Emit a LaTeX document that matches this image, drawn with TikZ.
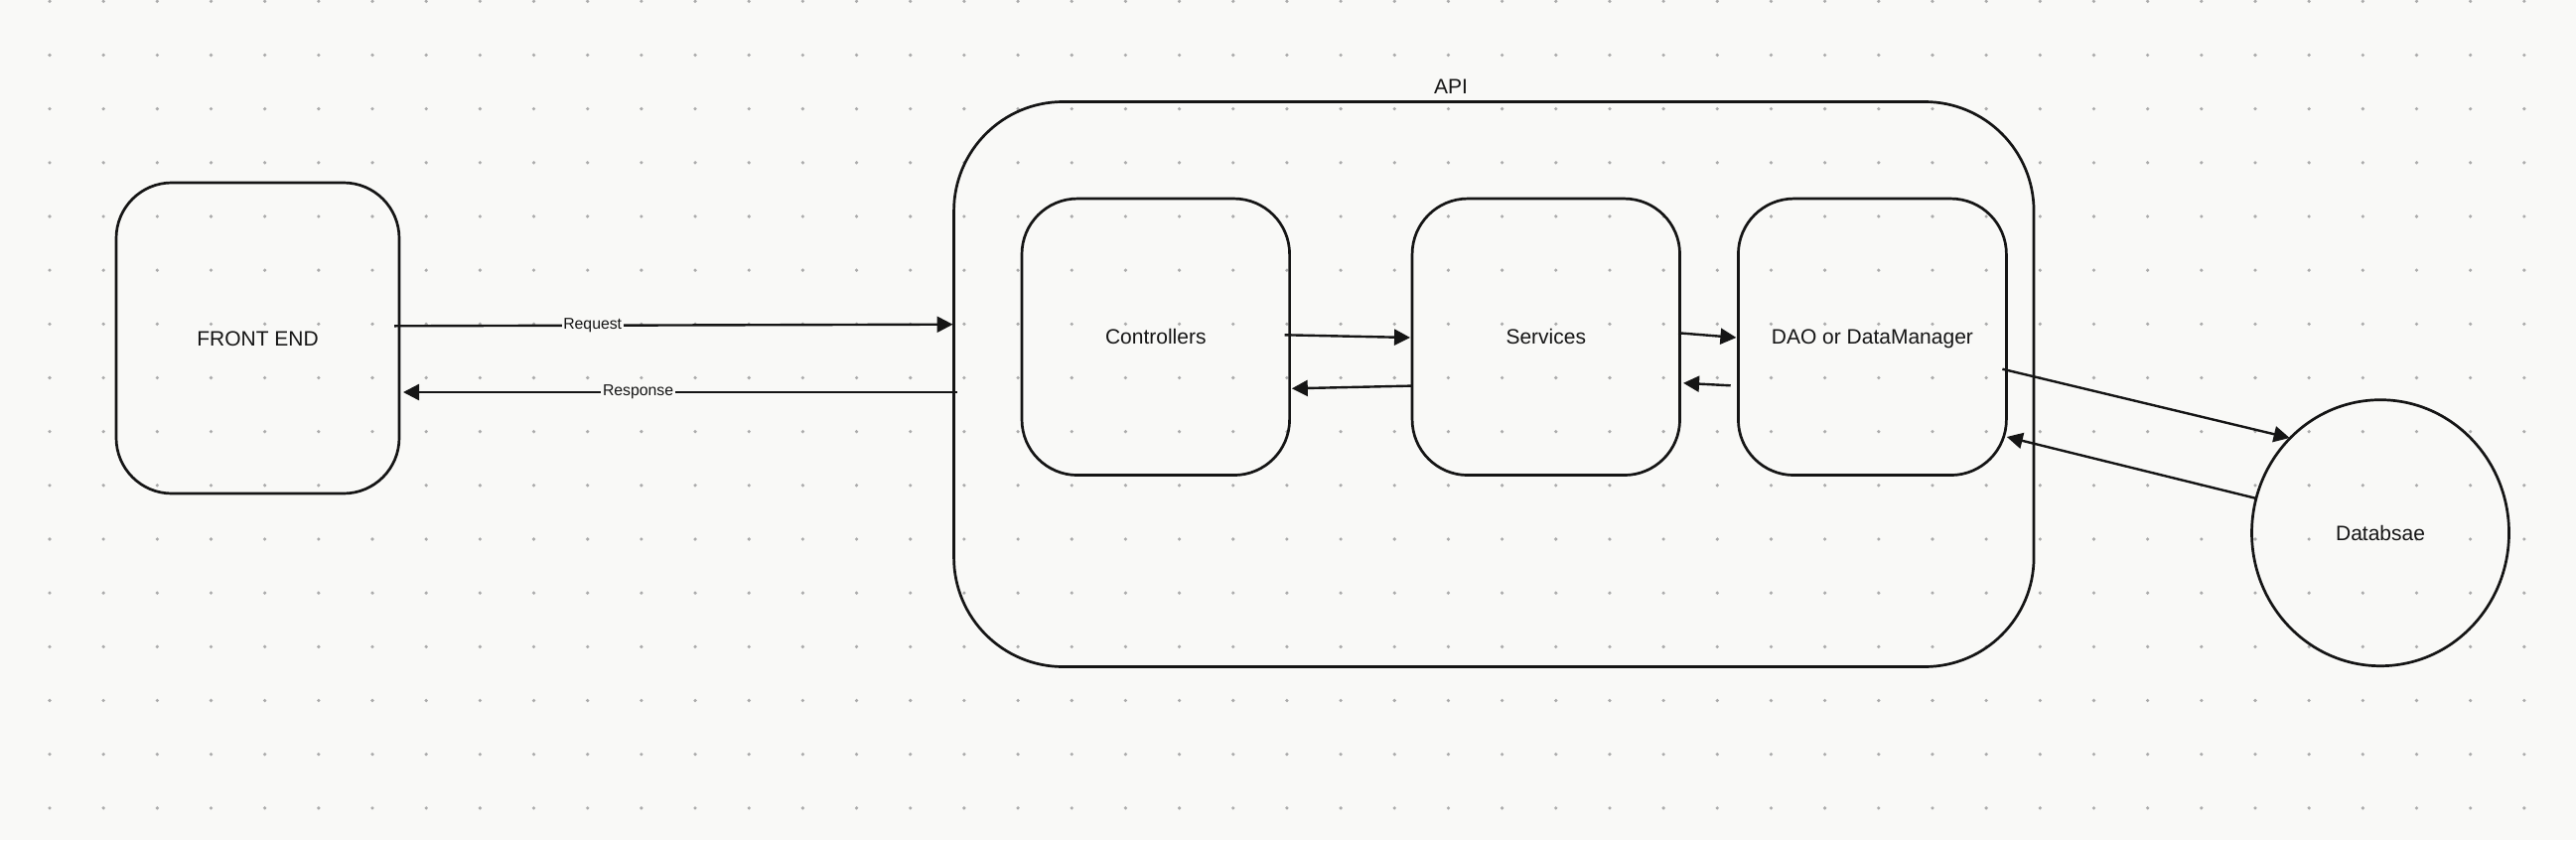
\documentclass[tikz,border=0pt]{standalone}
\usepackage{fontspec}
\setmainfont{Liberation Sans}
\usetikzlibrary{arrows.meta,shapes.geometric,calc}
\definecolor{bg}{HTML}{F9F9F7}
\definecolor{dotc}{HTML}{ABABAB}
\definecolor{ink}{HTML}{151515}
\begin{document}
\begin{tikzpicture}[x=0.5pt,y=-0.5pt,
  box/.style={draw=ink, line width=1.35pt, rectangle, inner sep=0pt, outer sep=0pt,
    text=ink, font=\fontsize{10.5}{12.6}\selectfont, text height=7.6pt, text depth=0pt},
  small/.style={box, rounded corners=28pt},
  dbstyle/.style={draw=ink, line width=1.35pt, ellipse, inner sep=0pt, outer sep=0pt,
    text=ink, font=\fontsize{10.5}{12.6}\selectfont, text height=7.6pt, text depth=0pt},
  conn/.style={draw=ink, line width=1.2pt, -{Triangle[length=8pt,width=8pt]}},
  lbl/.style={fill=bg, inner sep=0.8pt, text=ink, font=\fontsize{7.9}{9.5}\selectfont},
  title/.style={text=ink, font=\fontsize{10.5}{12.6}\selectfont, inner sep=0pt}
]
\fill[bg] (0,0) rectangle (2594,846);
\useasboundingbox (0,0) rectangle (2594,846);
\foreach \i in {0,...,46} {
  \foreach \j in {0,...,15} {
    \fill[dotc] (50+54.17*\i, 1.3+54.17*\j) circle (0.9pt);
  }
}
% nodes
\node[small, minimum width=142.5pt, minimum height=156.5pt] (fe) at (259.5,340.5) {FRONT END};
\node[box, rounded corners=55pt, minimum width=543.75pt, minimum height=284.5pt] (api) at (1504.3,387) {};
\node[title] (apilbl) at (1461,87) {API};
\node[small, minimum width=134.8pt, minimum height=139.25pt] (ctrl) at (1163.8,339.3) {Controllers};
\node[small, minimum width=134.75pt, minimum height=139.25pt] (svc) at (1556.8,339.3) {Services};
\node[small, minimum width=135pt, minimum height=139.25pt] (dao) at (1885.4,339.3) {DAO or DataManager};
\node[dbstyle, minimum width=129.5pt, minimum height=134pt] (db) at (2397,536.7) {Databsae};
% connectors
\draw[conn] ($(fe.east)+(-5,-12.2)$) -- node[lbl, pos=0.355] {Request} ($(api.west)+(-1,-60.3)$);
\draw[conn] ($(api.west)+(3.5,8)$) -- node[lbl, pos=0.576] {Response} ($(fe.east)+(4,54.5)$);
\draw[conn] ($(ctrl.east)+(-5,-2)$) -- ($(svc.west)+(-2,0.7)$);
\draw[conn] ($(svc.west)+(-0.6,49.3)$) -- ($(ctrl.east)+(2.2,52)$);
\draw[conn] ($(svc.east)+(-1.5,-4)$) -- ($(dao.west)+(-2,0.7)$);
\draw[conn] ($(dao.west)+(-7.7,49)$) -- ($(svc.east)+(3.5,46.5)$);
\draw[conn] ($(dao.east)+(-4,32.4)$) -- ($(db.center)+(-91.4,-95.7)$);
\draw[conn] ($(db.center)+(-126,-35)$) -- ($(dao.east)+(0.4,100.7)$);
\end{tikzpicture}
\end{document}
